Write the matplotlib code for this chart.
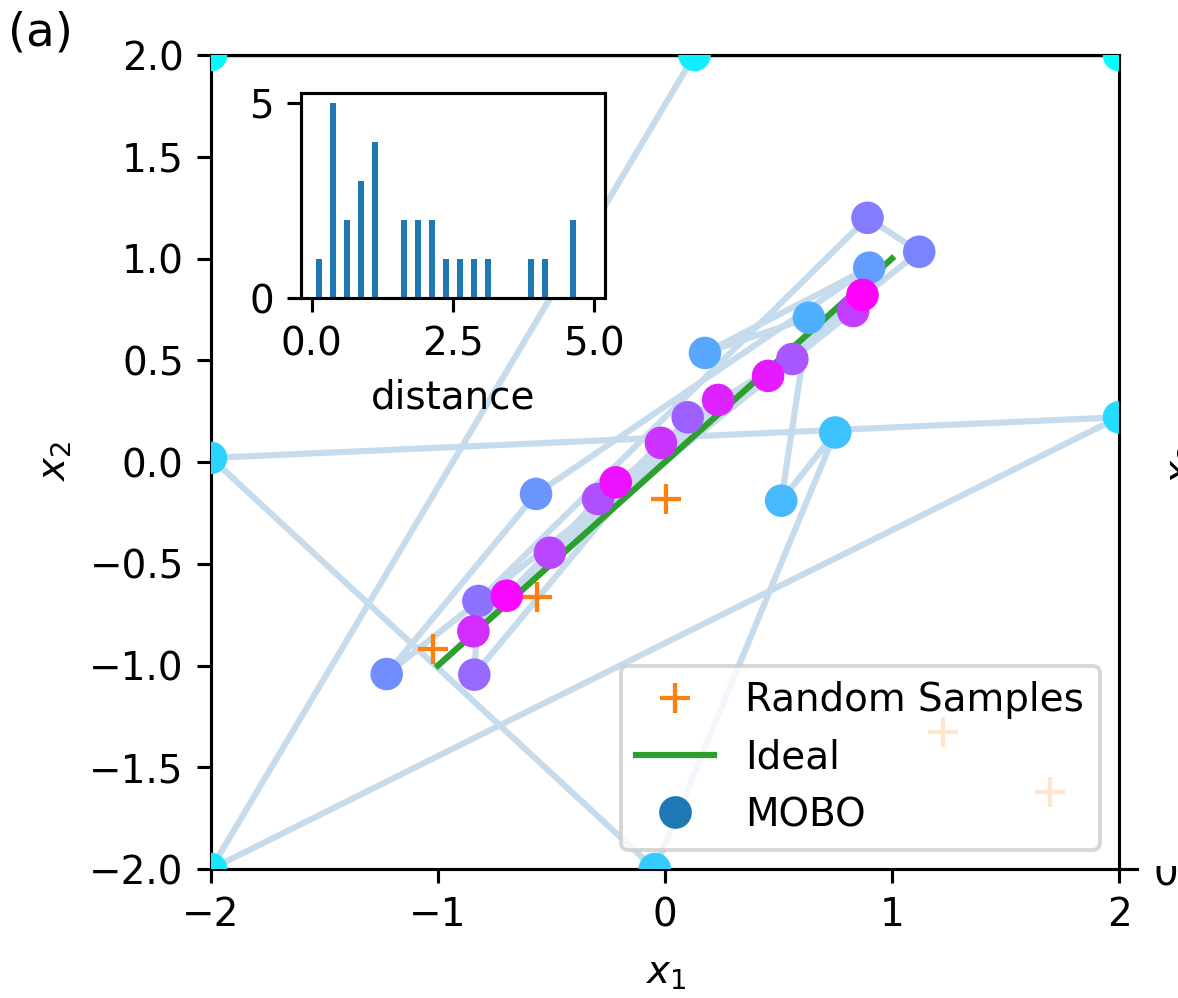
import matplotlib
matplotlib.use("Agg")
import matplotlib.pyplot as plt
import numpy as np
from matplotlib.lines import Line2D
from matplotlib.patches import Rectangle

# ---- data -------------------------------------------------------------
# MOBO query sequence in (x1, x2), in the order it was evaluated
mobo_x = [2.0, -2.0, 0.13, -2.0, 2.0, -2.0, -0.045, 0.750, 0.512, 0.634,
          0.176, 0.900, -0.568, -1.226, 1.120, 0.892, -0.822, -0.840, 0.100,
          0.561, -0.295, -0.507, 0.829, -0.018, -0.844, 0.234, 0.454, -0.217,
          -0.697, 0.870]
mobo_y = [2.0, 2.0, 2.0, -2.0, 0.22, 0.02, -2.0, 0.145, -0.190, 0.709,
          0.536, 0.955, -0.157, -1.042, 1.033, 1.200, -0.683, -1.045, 0.220,
          0.506, -0.182, -0.446, 0.742, 0.094, -0.832, 0.305, 0.423, -0.100,
          -0.657, 0.821]

# random initial samples
rand_x = [0.003, -0.565, -1.021, 1.225, 1.695]
rand_y = [-0.180, -0.662, -0.919, -1.327, -1.620]

# ideal front
ideal_x = [-1.0, 1.0]
ideal_y = [-1.0, 1.0]

# histogram of step distances between consecutive queries
bin_centers = [0.125, 0.375, 0.625, 0.875, 1.125, 1.375, 1.625, 1.875, 2.125,
               2.375, 2.625, 2.875, 3.125, 3.375, 3.625, 3.875, 4.125, 4.375,
               4.625]
counts = [1, 5, 2, 3, 4, 0, 2, 2, 2, 1, 1, 1, 1, 0, 0, 1, 1, 0, 2]

main_xticks = [-2, -1, 0, 1, 2]
inset_xticks = [0.0, 2.5, 5.0]
inset_yticks = [0, 5]

# ---- figure -----------------------------------------------------------
plt.rcParams["font.size"] = 10
DPI = 280
W, H = 1178, 998
fig = plt.figure(figsize=(W / DPI, H / DPI), dpi=DPI)

ax = fig.add_axes([211 / W, 1 - 869 / H, 908 / W, 814 / H])

ax.plot(mobo_x, mobo_y, color="C0", alpha=0.25, lw=1.6, zorder=1)
h_rand, = ax.plot(rand_x, rand_y, "+", color="C1", ms=7.5, mew=1.1,
                  zorder=2, label="Random Samples")
h_ideal, = ax.plot(ideal_x, ideal_y, color="C2", lw=1.6, zorder=2,
                   label="Ideal")
ax.scatter(mobo_x, mobo_y, c=np.arange(len(mobo_x)), cmap="cool", s=70,
           linewidths=0, zorder=3)
h_mobo = Line2D([], [], ls="none", marker="o", ms=8.4, mew=0, color="C0",
                label="MOBO")

ax.set_xlim(-2, 2)
ax.set_ylim(-2, 2)
ax.set_xticks(main_xticks)
ax.set_xlabel("$x_1$", labelpad=5)
ax.set_ylabel("$x_2$")
ax.legend(handles=[h_rand, h_ideal, h_mobo], loc="lower right")

# inset histogram
axin = fig.add_axes([301 / W, 1 - 298 / H, 304 / W, 205 / H])
axin.bar(bin_centers, counts, width=0.105, color="C0")
axin.set_xlim(-0.19, 5.19)
axin.set_ylim(0, 5.25)
axin.set_xticks(inset_xticks)
axin.set_yticks(inset_yticks)
axin.set_xlabel("distance")

# panel tag
fig.text(8 / W, 1 - 10 / H, "(a)", ha="left", va="top", fontsize=12)

# edge of the neighbouring panel
fig.add_artist(Line2D([1119 / W, 1137 / W], [1 - 869 / H] * 2, color="k",
                      lw=0.8))
fig.text(1154 / W, 1 - 874 / H, "0", ha="left", va="center")
fig.add_artist(Rectangle((1140 / W, 1 - 866 / H), 38 / W, 30 / H,
                         transform=fig.transFigure, facecolor="white",
                         edgecolor="none", zorder=5))
fig.text(1163 / W, 1 - 465 / H, "$x_2$", rotation=90, ha="left",
         va="center")

fig.savefig("out.png", dpi=DPI)
